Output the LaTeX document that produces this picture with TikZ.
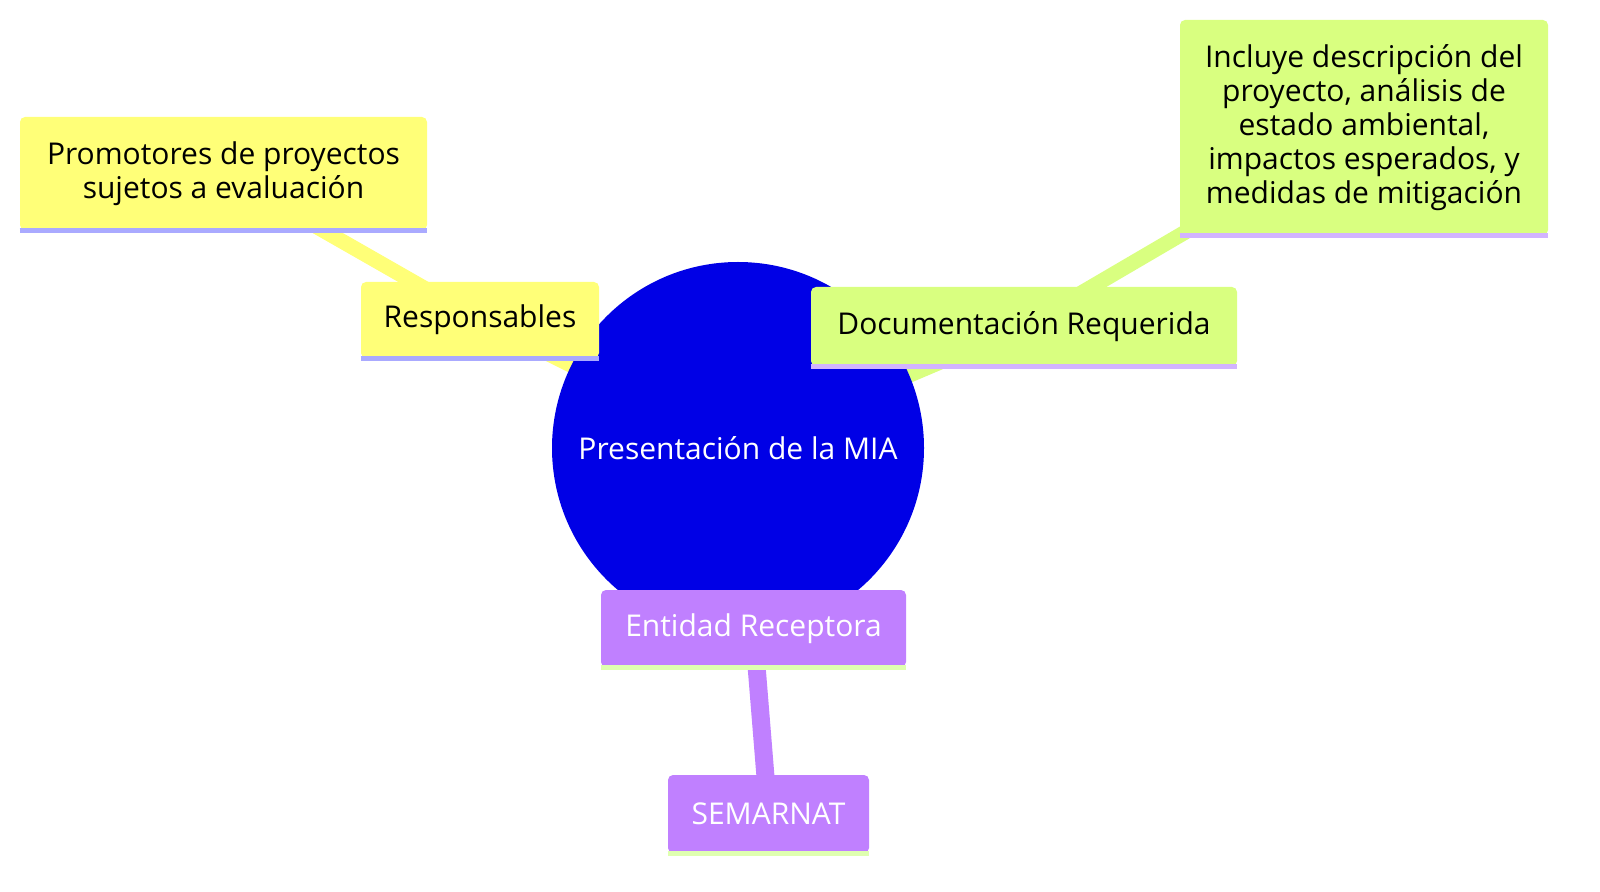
\documentclass[tikz,border=0pt]{standalone}
\usepackage{fontspec}
\setmainfont{Open Sans}
\usetikzlibrary{backgrounds}
\definecolor{hubblue}{RGB}{0,0,230}
\definecolor{leafyellow}{RGB}{255,255,120}
\definecolor{leafgreen}{RGB}{217,255,128}
\definecolor{leafpurple}{RGB}{192,128,255}
\definecolor{lineblue}{RGB}{170,170,255}
\definecolor{linelilac}{RGB}{210,180,255}
\definecolor{linegreen}{RGB}{223,255,176}
\tikzset{
  mapbox/.style={rectangle, rounded corners=2.5pt, align=center, inner sep=0pt,
    font=\fontsize{15}{17}\selectfont},
  branch/.style={line width=7.5pt},
  rim/.style={line width=2.5pt}
}
\begin{document}
\begin{tikzpicture}[x=0.5pt,y=-0.5pt]
  \useasboundingbox (0,0) rectangle (1600,892);

  % hub
  \node (hub) [circle, fill=hubblue, minimum size=186pt, text=white,
    font=\fontsize{15}{17}\selectfont] at (738,448) {Presentación de la MIA};

  % branches
  \node (resp) [mapbox, fill=leafyellow, minimum width=119pt, minimum height=38pt] at (480,320) {Responsables};
  \node (prom) [mapbox, fill=leafyellow, minimum width=203.5pt, minimum height=56.5pt] at (223.5,173.5) {Promotores de proyectos\\sujetos a evaluación};
  \node (docu) [mapbox, fill=leafgreen, minimum width=213pt, minimum height=39.5pt] at (1024,326.5) {Documentación Requerida};
  \node (incl) [mapbox, fill=leafgreen, minimum width=184pt, minimum height=107.5pt] at (1364,127.5) {Incluye descripción del\\proyecto, análisis de\\estado ambiental,\\impactos esperados, y\\medidas de mitigación};
  \node (enti) [mapbox, fill=leafpurple, text=white, minimum width=152.5pt, minimum height=38.5pt] at (753.5,628.5) {Entidad Receptora};
  \node (sema) [mapbox, fill=leafpurple, text=white, minimum width=100.5pt, minimum height=39pt] at (768.5,814) {SEMARNAT};

  % bottom rims
  \draw [rim, lineblue] (resp.south west) -- (resp.south east);
  \draw [rim, lineblue] (prom.south west) -- (prom.south east);
  \draw [rim, linelilac] (docu.south west) -- (docu.south east);
  \draw [rim, linelilac] (incl.south west) -- (incl.south east);
  \draw [rim, linegreen] (enti.south west) -- (enti.south east);
  \draw [rim, linegreen] (sema.south west) -- (sema.south east);

  \begin{pgfonlayer}{background}
    \draw [branch, leafyellow] (hub.center) -- (resp.center) -- (prom.center);
    \draw [branch, leafgreen] (hub.center) -- (docu.center) -- (incl.center);
    \draw [branch, leafpurple] (hub.center) -- (enti.center);
    \draw [line width=9pt, leafpurple] (enti.center) -- (sema.center);
  \end{pgfonlayer}
\end{tikzpicture}
\end{document}
